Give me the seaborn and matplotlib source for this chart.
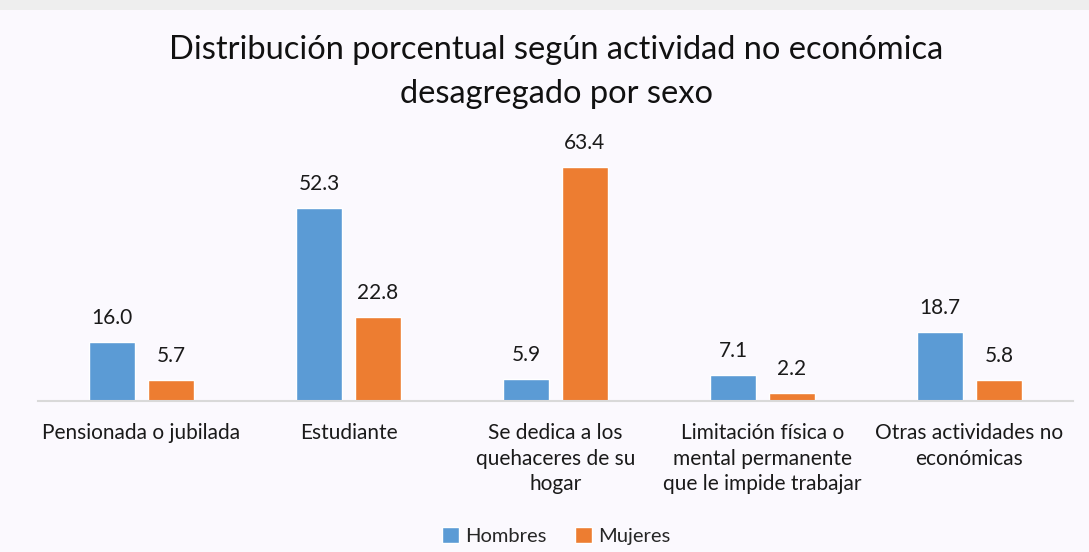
import matplotlib
matplotlib.use("Agg")
import matplotlib.pyplot as plt
import seaborn as sns
import pandas as pd
from matplotlib.patches import Rectangle

# datos
categorias = [
    "Pensionada o jubilada",
    "Estudiante",
    "Se dedica a los\nquehaceres de su\nhogar",
    "Limitación física o\nmental permanente\nque le impide trabajar",
    "Otras actividades no\neconómicas",
]
hombres = [16.0, 52.3, 5.9, 7.1, 18.7]
mujeres = [5.7, 22.8, 63.4, 2.2, 5.8]
sexos = ["Hombres", "Mujeres"]
colores = ["#5B9BD5", "#ED7D31"]

df = pd.DataFrame({
    "categoria": categorias * 2,
    "sexo": [sexos[0]] * len(categorias) + [sexos[1]] * len(categorias),
    "valor": hombres + mujeres,
})

sns.set_style("white")
plt.rcParams["font.family"] = ["Lato", "DejaVu Sans"]

bg = "#FBF9FE"
fig = plt.figure(figsize=(10.89, 5.52), dpi=100, facecolor=bg)
# franja gris superior
fig.patches.append(Rectangle((0, 1 - 10 / 552), 1, 10 / 552, transform=fig.transFigure,
                             facecolor="#EEEEEE", edgecolor="none", zorder=0))

ax = fig.add_axes([38 / 1089, 1 - 401 / 552, (1073 - 38) / 1089, 258 / 552])
ax.set_facecolor(bg)

sns.barplot(data=df, x="categoria", y="valor", hue="sexo", palette=colores,
            saturation=1, width=0.57, gap=0.22, ax=ax, legend=True)

for cont in ax.containers:
    ax.bar_label(cont, fmt="%.1f", padding=10, fontsize=15, color="#1a1a1a")

ax.set_ylim(0, 70)
ax.set_xlim(-0.5, 4.5)
ax.set_xlabel("")
ax.set_ylabel("")
ax.set_yticks([])
for s in ["top", "right", "left"]:
    ax.spines[s].set_visible(False)
ax.spines["bottom"].set_color("#D9D9D9")
ax.spines["bottom"].set_linewidth(1.5)
ax.tick_params(axis="x", length=0, pad=16, labelsize=15, labelcolor="#1a1a1a")
for lbl in ax.get_xticklabels():
    lbl.set_verticalalignment("top")
    lbl.set_linespacing(1.35)

fig.text(556 / 1089, 1 - 72 / 552,
         "Distribución porcentual según actividad no económica\ndesagregado por sexo",
         ha="center", va="center", fontsize=23.5, color="#111111", linespacing=1.55)

ax.legend(loc="center", bbox_to_anchor=(556 / 1089, 1 - 536 / 552),
          bbox_transform=fig.transFigure, ncol=2, frameon=False, fontsize=14.5,
          handlelength=0.85, handleheight=0.85, handletextpad=0.3, columnspacing=1.4)

fig.savefig("out.png", dpi=100, facecolor=bg)
